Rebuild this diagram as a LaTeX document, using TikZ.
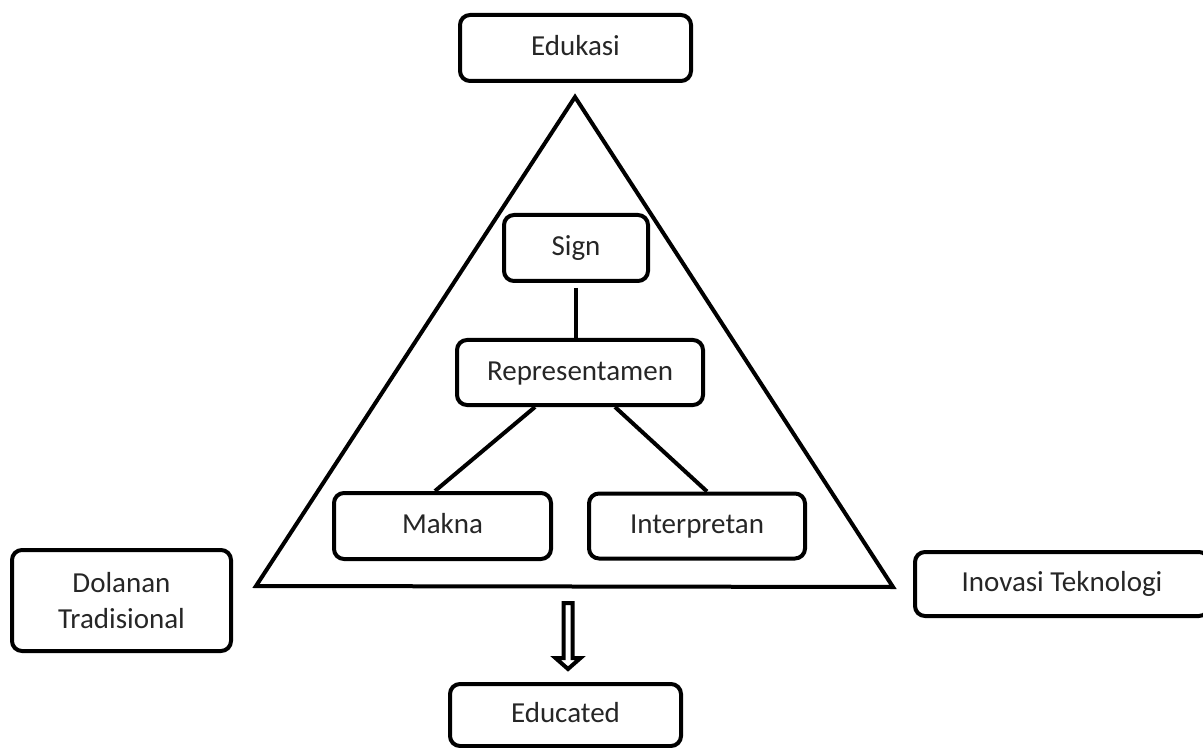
\documentclass[tikz,border=0pt]{standalone}
\usepackage{fontspec}
\setmainfont{Carlito}
\usetikzlibrary{calc}

\begin{document}
\begin{tikzpicture}[x=0.5pt, y=-0.5pt,
    kotak/.style={draw, line width=2pt, rounded corners=5pt, align=center,
        inner sep=2pt, font=\fontsize{14.5}{18}\selectfont, text=black!85},
    baris/.style={kotak, text height=10.5pt, text depth=3pt},
    garis/.style={line width=2pt}]
    % Batas gambar
    \useasboundingbox (0,0) rectangle (1203,748);

    % Segitiga besar
    \coordinate (puncak) at (575,97);
    \coordinate (kiri) at (256,586);
    \coordinate (kanan) at (893,587);
    \draw[garis, line join=miter] (puncak) -- (kiri) -- (kanan) -- cycle;

    % Kotak di luar segitiga
    \node[baris, minimum width=115.5pt, minimum height=33pt] (edukasi) at (575.5,48) {Edukasi};
    \node[kotak, minimum width=109.5pt, minimum height=50.5pt] (dolanan) at (121.5,600.5) {Dolanan\\Tradisional};
    \node[baris, minimum width=147pt, minimum height=32pt] (inovasi) at (1062,584) {Inovasi Teknologi};
    \node[baris, minimum width=115.5pt, minimum height=31pt] (educated) at (565.5,715) {Educated};

    % Kotak di dalam segitiga
    \node[baris, minimum width=72pt, minimum height=33pt] (sign) at (576,248) {Sign};
    \node[baris, minimum width=123pt, minimum height=32.5pt] (rep) at (580,372.5) {Representamen};
    \node[baris, minimum width=108.5pt, minimum height=33pt] (makna) at (442.5,526) {Makna};
    \node[baris, minimum width=108pt, minimum height=32.5pt] (interp) at (697,526) {Interpretan};

    % Garis penghubung
    \draw[garis] ([yshift=-2.5pt]sign.south) -- (sign.south |- rep.north);
    \draw[garis] ([xshift=-22.5pt]rep.south) -- ([xshift=-3.75pt]makna.north);
    \draw[garis] ([xshift=17.5pt]rep.south) -- ([xshift=5pt]interp.north);

    % Panah ke Educated
    \coordinate (panah) at (568,603);
    \draw[line width=2pt, fill=white, line join=miter] (panah) ++(-4.5,0) -- ++(9,0)
        -- ++(0,55) -- ++(8,0) -- ++(-12.5,11) -- ++(-12.5,-11) -- ++(8,0) -- cycle;
\end{tikzpicture}
\end{document}
